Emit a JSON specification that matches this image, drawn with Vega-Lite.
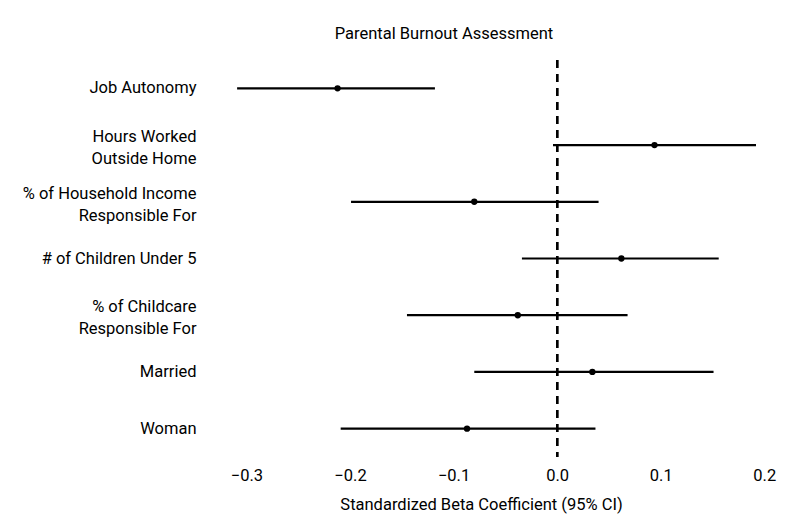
{
  "$schema": "https://vega.github.io/schema/vega-lite/v6.json",
  "autosize": "none",
  "width": 580,
  "height": 397,
  "padding": {"left": 205, "top": 60, "right": 0, "bottom": 62},
  "background": "white",
  "title": {
    "text": "Parental Burnout Assessment",
    "anchor": "middle",
    "dx": -51,
    "offset": 17,
    "fontSize": 16.5,
    "fontWeight": "normal",
    "font": "Roboto, sans-serif",
    "color": "black"
  },
  "config": {
    "view": {"stroke": null},
    "font": "Roboto, sans-serif"
  },
  "data": {
    "values": [
      {"term": "Job Autonomy", "estimate": -0.212, "lower": -0.309, "upper": -0.118},
      {"term": "Hours Worked\nOutside Home", "estimate": 0.094, "lower": -0.004, "upper": 0.192},
      {"term": "% of Household Income\nResponsible For", "estimate": -0.080, "lower": -0.199, "upper": 0.040},
      {"term": "# of Children Under 5", "estimate": 0.062, "lower": -0.034, "upper": 0.156},
      {"term": "% of Childcare\nResponsible For", "estimate": -0.038, "lower": -0.145, "upper": 0.068},
      {"term": "Married", "estimate": 0.034, "lower": -0.080, "upper": 0.151},
      {"term": "Woman", "estimate": -0.087, "lower": -0.209, "upper": 0.037}
    ]
  },
  "encoding": {
    "y": {
      "field": "term",
      "type": "nominal",
      "sort": null,
      "scale": {"paddingOuter": 0, "paddingInner": 0},
      "axis": {
        "title": null,
        "domain": false,
        "ticks": false,
        "grid": false,
        "labelPadding": 9,
        "labelFontSize": 16.5,
        "labelColor": "black",
        "labelLineHeight": 22,
        "labelOffset": {"expr": "indexof(datum.value, '\\n') >= 0 ? -8 : 0"},
        "labelExpr": "split(datum.label, '\\n')",
        "labelLimit": 300
      }
    }
  },
  "layer": [
    {
      "mark": {"type": "rule", "strokeDash": [8, 6], "strokeWidth": 2, "color": "black"},
      "encoding": {"x": {"datum": 0, "type": "quantitative"}, "y": null}
    },
    {
      "mark": {"type": "rule", "strokeWidth": 2.2, "color": "black"},
      "encoding": {
        "x": {
          "field": "lower",
          "type": "quantitative",
          "scale": {"domain": [-0.34, 0.22], "nice": false, "zero": false},
          "axis": {
            "values": [-0.3, -0.2, -0.1, 0, 0.1, 0.2],
            "format": ".1f",
            "title": "Standardized Beta Coefficient (95% CI)",
            "titleX": 276,
            "domain": false,
            "ticks": false,
            "grid": false,
            "labelPadding": 10,
            "labelFontSize": 16.5,
            "labelColor": "black",
            "titleFontSize": 16.5,
            "titleFontWeight": "normal",
            "titleColor": "black",
            "titlePadding": 13
          }
        },
        "x2": {"field": "upper"}
      }
    },
    {
      "mark": {"type": "point", "filled": true, "size": 40, "opacity": 1, "color": "black"},
      "encoding": {"x": {"field": "estimate", "type": "quantitative"}}
    }
  ]
}
